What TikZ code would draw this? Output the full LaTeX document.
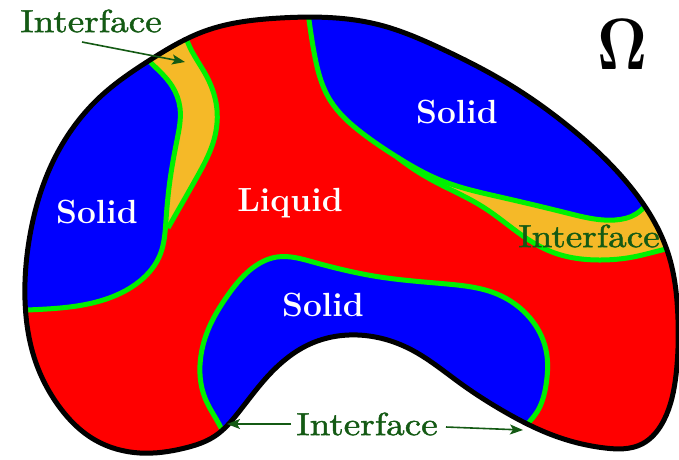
\documentclass[tikz,border=0pt]{standalone}
\usepackage[no-math]{fontspec}
\newfontfamily\ifcfont{lmroman10-regular.otf}[FakeBold=1.3]
\usetikzlibrary{arrows.meta,hobby}
\definecolor{liq}{RGB}{255,0,0}
\definecolor{sol}{RGB}{0,0,255}
\definecolor{ifc}{RGB}{0,240,0}
\definecolor{yel}{RGB}{245,185,40}
\definecolor{dg}{RGB}{20,90,20}
\tikzset{
  greenline/.style={draw=ifc,line width=5pt},
  border/.style={draw=black,line width=5pt},
  phaselbl/.style={font=\fontsize{33.5}{40}\selectfont\bfseries,text=white,inner sep=0pt},
  ifclbl/.style={font=\ifcfont\fontsize{32}{38}\selectfont,text=dg,inner sep=0pt},
  ifcarrow/.style={draw=dg,line width=1.6pt,-{Stealth[length=13pt,width=10pt,inset=3pt]}},
}
\newcommand\ifctext{\scalebox{1.16}[1]{Interface}}
\begin{document}
\begin{tikzpicture}[x=1pt,y=-1pt]
\useasboundingbox (0,0) rectangle (679,459);
% liquid background
\fill[liq] plot[closed hobby] coordinates {(280,18) (380,25) (440,48) (507,83) (573,130) (633,190) (668,253) (678,320) (676,375) (664,420) (642,444) (605,448) (555,436) (505,412) (460,383) (410,349) (358,335) (310,344) (267,377) (238,413) (215,436) (185,448) (140,453) (95,440) (58,405) (35,360) (25,300) (30,235) (50,168) (100,97) (150,60) (205,31)};
\begin{scope}
\clip plot[closed hobby] coordinates {(280,18) (380,25) (440,48) (507,83) (573,130) (633,190) (668,253) (678,320) (676,375) (664,420) (642,444) (605,448) (555,436) (505,412) (460,383) (410,349) (358,335) (310,344) (267,377) (238,413) (215,436) (185,448) (140,453) (95,440) (58,405) (35,360) (25,300) (30,235) (50,168) (100,97) (150,60) (205,31)};
% left interface (yellow)
\fill[yel] (130,0) -- plot[hobby] coordinates {(183,15) (188,43) (207,77) (217,110) (213,143) (197,177) (180,207) (168,228)} -- (100,228) -- cycle;
% right interface (yellow)
\fill[yel] plot[hobby] coordinates {(397,157) (430,179) (483,207) (523,236) (552,252) (600,260) (633,257) (662,250) (690,244)} -- (700,244) -- (700,150) -- (397,150) -- cycle;
% left solid
\fill[sol] plot[hobby] coordinates {(5,311) (27,310) (100,301) (140,281) (160,255) (166,220) (170,180) (177,140) (180,108) (172,86) (150,62) (128,38)} -- (0,0) -- (0,311) -- cycle;
% top right solid
\fill[sol] plot[hobby] coordinates {(307,5) (309,20) (314,52) (330,100) (362,133) (397,157) (440,180) (500,197) (567,213) (615,220) (636,214) (650,200) (662,180)} -- (700,180) -- (700,0) -- cycle;
% bottom solid
\fill[sol] plot[hobby] coordinates {(228,444) (219,424) (205,398) (200,365) (208,330) (228,295) (250,270) (277,257) (313,262) (380,277) (447,284) (497,294) (530,318) (546,350) (546,385) (537,412) (522,430) (510,448)} -- (510,459) -- (228,459) -- cycle;
% interface lines
\draw[greenline] plot[hobby] coordinates {(183,15) (188,43) (207,77) (217,110) (213,143) (197,177) (180,207) (168,228)};
\draw[greenline] plot[hobby] coordinates {(5,311) (27,310) (100,301) (140,281) (160,255) (166,220) (170,180) (177,140) (180,108) (172,86) (150,62) (128,38)};
\draw[greenline] plot[hobby] coordinates {(397,157) (430,179) (483,207) (523,236) (552,252) (600,260) (633,257) (662,250) (690,244)};
\draw[greenline] plot[hobby] coordinates {(307,5) (309,20) (314,52) (330,100) (362,133) (397,157) (440,180) (500,197) (567,213) (615,220) (636,214) (650,200) (662,180)};
\draw[greenline] plot[hobby] coordinates {(228,444) (219,424) (205,398) (200,365) (208,330) (228,295) (250,270) (277,257) (313,262) (380,277) (447,284) (497,294) (530,318) (546,350) (546,385) (537,412) (522,430) (510,448)};
\end{scope}
% domain border
\draw[border] plot[closed hobby] coordinates {(280,18) (380,25) (440,48) (507,83) (573,130) (633,190) (668,253) (678,320) (676,375) (664,420) (642,444) (605,448) (555,436) (505,412) (460,383) (410,349) (358,335) (310,344) (267,377) (238,413) (215,436) (185,448) (140,453) (95,440) (58,405) (35,360) (25,300) (30,235) (50,168) (100,97) (150,60) (205,31)};
% labels
\node[phaselbl] (sL) at (97,212) {Solid};
\node[phaselbl] (liq) at (290,203) {Liquid};
\node[phaselbl] (sT) at (457,112) {Solid};
\node[phaselbl] (sB) at (323,305) {Solid};
\node[ifclbl] (iR) at (589,236) {\ifctext};
\node[ifclbl] (iTL) at (91,21) {\ifctext};
\node[ifclbl] (iB) at (367,424) {\ifctext};
\node[inner sep=0pt] (om) at (622,44) {\resizebox{50pt}{50pt}{$\mathbf{\Omega}$}};
% arrows
\coordinate (aTLs) at (82,42);
\coordinate (aTLe) at (185,62);
\coordinate (aBLs) at (291,424);
\coordinate (aBLe) at (227,424);
\coordinate (aBRs) at (446,427);
\coordinate (aBRe) at (523,430);
\draw[ifcarrow] (aTLs) -- (aTLe);
\draw[ifcarrow] (aBLs) -- (aBLe);
\draw[ifcarrow] (aBRs) -- (aBRe);
\end{tikzpicture}
\end{document}
